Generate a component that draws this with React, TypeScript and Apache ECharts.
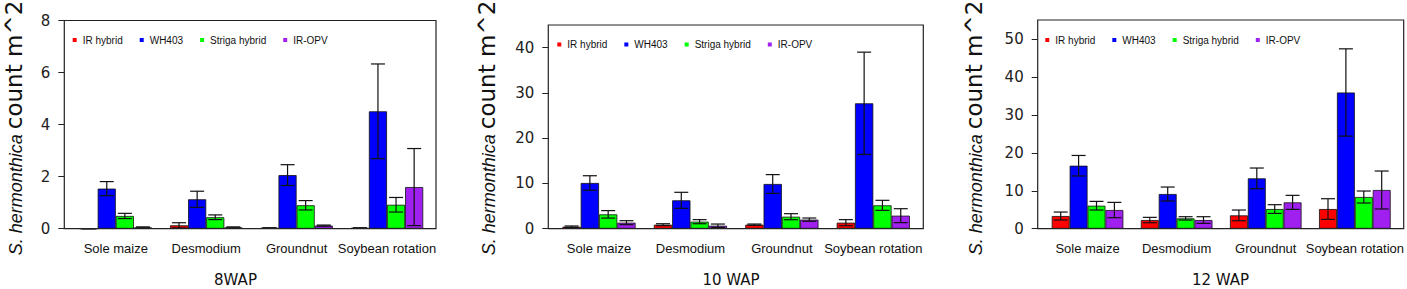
import React, { useEffect, useRef } from 'react';
import * as echarts from 'echarts';

// ---------- data ----------
const categories = ['Sole maize', 'Desmodium', 'Groundnut', 'Soybean rotation'];
const varieties = ['IR hybrid', 'WH403', 'Striga hybrid', 'IR-OPV'];
const varietyColors = ['#FF0000', '#0000FF', '#00FF00', '#A020F0'];
const panelTitles = ['8WAP', '10 WAP', '12 WAP'];
const yAxisTitle = ['S. hermonthica', 'count m^2'];

// rows: varieties, columns: categories
const wap8Means = [
  [0, 0.13, 0.03, 0.03],
  [1.54, 1.13, 2.06, 4.51],
  [0.49, 0.44, 0.9, 0.92],
  [0.05, 0.05, 0.12, 1.6],
];
const wap8Se = [
  [0, 0.1, 0, 0],
  [0.27, 0.31, 0.4, 1.82],
  [0.1, 0.09, 0.18, 0.28],
  [0.02, 0.02, 0.02, 1.48],
];
const wap10Means = [
  [0.44, 0.89, 0.89, 1.33],
  [10.1, 6.27, 9.88, 27.7],
  [3.17, 1.55, 2.65, 5.16],
  [1.33, 0.66, 2.0, 2.88],
];
const wap10Se = [
  [0.16, 0.21, 0.14, 0.67],
  [1.6, 1.77, 2.07, 11.3],
  [0.83, 0.45, 0.67, 1.11],
  [0.44, 0.37, 0.36, 1.54],
];
const wap12Means = [
  [3.34, 2.28, 3.51, 5.18],
  [16.6, 9.14, 13.27, 35.9],
  [6.06, 2.72, 5.18, 8.35],
  [4.92, 2.28, 6.94, 10.2],
];
const wap12Se = [
  [1.05, 0.71, 1.41, 2.72],
  [2.7, 1.84, 2.72, 11.5],
  [1.14, 0.44, 1.15, 1.58],
  [2.02, 0.88, 1.85, 5.0],
];
const yMaxes = [8, 45, 55];
const yTicks8 = [0, 2, 4, 6, 8];
const yTicks10 = [0, 10, 20, 30, 40];
const yTicks12 = [0, 10, 20, 30, 40, 50];

const panelMeans = [wap8Means, wap10Means, wap12Means];
const panelSe = [wap8Se, wap10Se, wap12Se];
const panelTicks = [yTicks8, yTicks10, yTicks12];

// ---------- layout ----------
const AXIS_Y = 228.7;
const CHART_H = 289;
const layouts = [
  { gridLeft: 70.6, gridWidth: 361.6, gridTop: 20.5, boxLeft: 64.3, boxRight: 436, barW: 18.1, legendLeft: 72.7, legendTop: 35, titleX: 13, xTitleX: 235.5 },
  { gridLeft: 553.3, gridWidth: 365.7, gridTop: 25, boxLeft: 548.3, boxRight: 923.3, barW: 18.3, legendLeft: 557.3, legendTop: 39.5, titleX: 486, xTitleX: 731 },
  { gridLeft: 1043, gridWidth: 356.4, gridTop: 20, boxLeft: 1037.7, boxRight: 1403.7, barW: 17.9, legendLeft: 1045.3, legendTop: 35, titleX: 973, xTitleX: 1220.5 },
];
const SANS = "'Liberation Sans', Arial, sans-serif";
const WIDE = "'DejaVu Sans', sans-serif";
const CAP_W = 14;

function buildOption() {
  const grid = layouts.map((l) => ({
    left: l.gridLeft,
    top: l.gridTop,
    width: l.gridWidth,
    height: AXIS_Y - l.gridTop,
  }));

  const xAxis = layouts.map((_, p) => ({
    type: 'category',
    gridIndex: p,
    data: categories,
    axisLine: { show: false },
    axisTick: { show: false },
    axisLabel: { fontFamily: SANS, fontSize: 13, color: '#111', margin: 13, interval: 0 },
  }));

  const yAxis = layouts.map((l, p) => ({
    type: 'value',
    gridIndex: p,
    min: 0,
    max: yMaxes[p],
    offset: l.gridLeft - l.boxLeft,
    splitLine: { show: false },
    axisLine: { show: false },
    axisTick: { show: true, length: 6, inside: false, customValues: panelTicks[p], lineStyle: { color: '#222', width: 1 } },
    axisLabel: { customValues: panelTicks[p], fontFamily: WIDE, fontSize: 15, color: '#222', margin: 14 },
  }));

  const series: any[] = [];
  layouts.forEach((l, p) => {
    varieties.forEach((name, v) => {
      series.push({
        type: 'bar',
        name,
        xAxisIndex: p,
        yAxisIndex: p,
        data: panelMeans[p][v],
        barWidth: l.barW,
        barGap: '0%',
        itemStyle: { color: varietyColors[v], borderColor: '#111', borderWidth: 0.8 },
        z: 2,
      });
    });
    const errData: number[][] = [];
    categories.forEach((_, c) => {
      varieties.forEach((__, v) => {
        errData.push([c, v, panelMeans[p][v][c], panelSe[p][v][c]]);
      });
    });
    const barW = l.barW;
    series.push({
      type: 'custom',
      name: 'err' + p,
      xAxisIndex: p,
      yAxisIndex: p,
      z: 5,
      encode: { x: 0, y: 2 },
      data: errData,
      renderItem: (params: any, api: any) => {
        const cat = api.value(0);
        const v = api.value(1);
        const m = api.value(2);
        const se = api.value(3);
        const base = api.coord([cat, m]);
        const x = base[0] + (v - 1.5) * barW;
        const yTop = api.coord([cat, m + se])[1];
        const yBot = api.coord([cat, Math.max(0, m - se)])[1];
        const hw = CAP_W / 2;
        const style = { stroke: '#111', lineWidth: 1.2, fill: null };
        return {
          type: 'group',
          children: [
            { type: 'line', shape: { x1: x, y1: yTop, x2: x, y2: yBot }, style },
            { type: 'line', shape: { x1: x - hw, y1: yTop, x2: x + hw, y2: yTop }, style },
            { type: 'line', shape: { x1: x - hw, y1: yBot, x2: x + hw, y2: yBot }, style },
          ],
        };
      },
    });
  });

  const legend = layouts.map((l) => ({
    data: varieties,
    left: l.legendLeft,
    top: l.legendTop,
    orient: 'horizontal',
    icon: 'rect',
    itemWidth: 4,
    itemHeight: 4,
    itemGap: 17,
    padding: 0,
    selectedMode: false,
    itemStyle: { borderWidth: 0 },
    textStyle: { fontFamily: SANS, fontSize: 10, color: '#111', padding: [0, 0, 0, 1] },
  }));

  const graphic: any[] = [];
  layouts.forEach((l, p) => {
    graphic.push({
      type: 'rect',
      shape: { x: l.boxLeft, y: l.gridTop, width: l.boxRight - l.boxLeft, height: AXIS_Y - l.gridTop },
      style: { fill: 'none', stroke: '#222', lineWidth: 1.2 },
      z: 10,
      silent: true,
    });
    graphic.push({
      type: 'text',
      x: l.xTitleX,
      y: 279.5,
      style: {
        text: panelTitles[p],
        font: "15px 'DejaVu Sans', sans-serif",
        fill: '#111',
        align: 'center',
        verticalAlign: 'middle',
      },
      silent: true,
    });
    graphic.push({
      type: 'text',
      x: l.titleX,
      y: 128,
      rotation: Math.PI / 2,
      style: {
        text: '{a|' + yAxisTitle[0] + ' }{b|' + yAxisTitle[1] + '}',
        rich: {
          a: { fontFamily: SANS, fontStyle: 'italic', fontSize: 18, fill: '#111', lineHeight: 24, verticalAlign: 'bottom' },
          b: { fontFamily: WIDE, fontSize: 23, fill: '#111', lineHeight: 24, verticalAlign: 'bottom' },
        },
        align: 'center',
        verticalAlign: 'middle',
      },
      silent: true,
    });
  });

  return {
    animation: false,
    backgroundColor: '#ffffff',
    grid,
    xAxis,
    yAxis,
    legend,
    series,
    graphic,
  };
}

export default function App() {
  const ref = useRef<HTMLDivElement>(null);
  useEffect(() => {
    if (!ref.current) return;
    const chart = echarts.init(ref.current, null, { renderer: 'svg' });
    chart.setOption(buildOption() as any);
    return () => chart.dispose();
  }, []);
  return (
    <div
      ref={ref}
      style={{ position: 'fixed', left: 0, top: 0, width: 1407, height: CHART_H, background: '#fff' }}
    />
  );
}
